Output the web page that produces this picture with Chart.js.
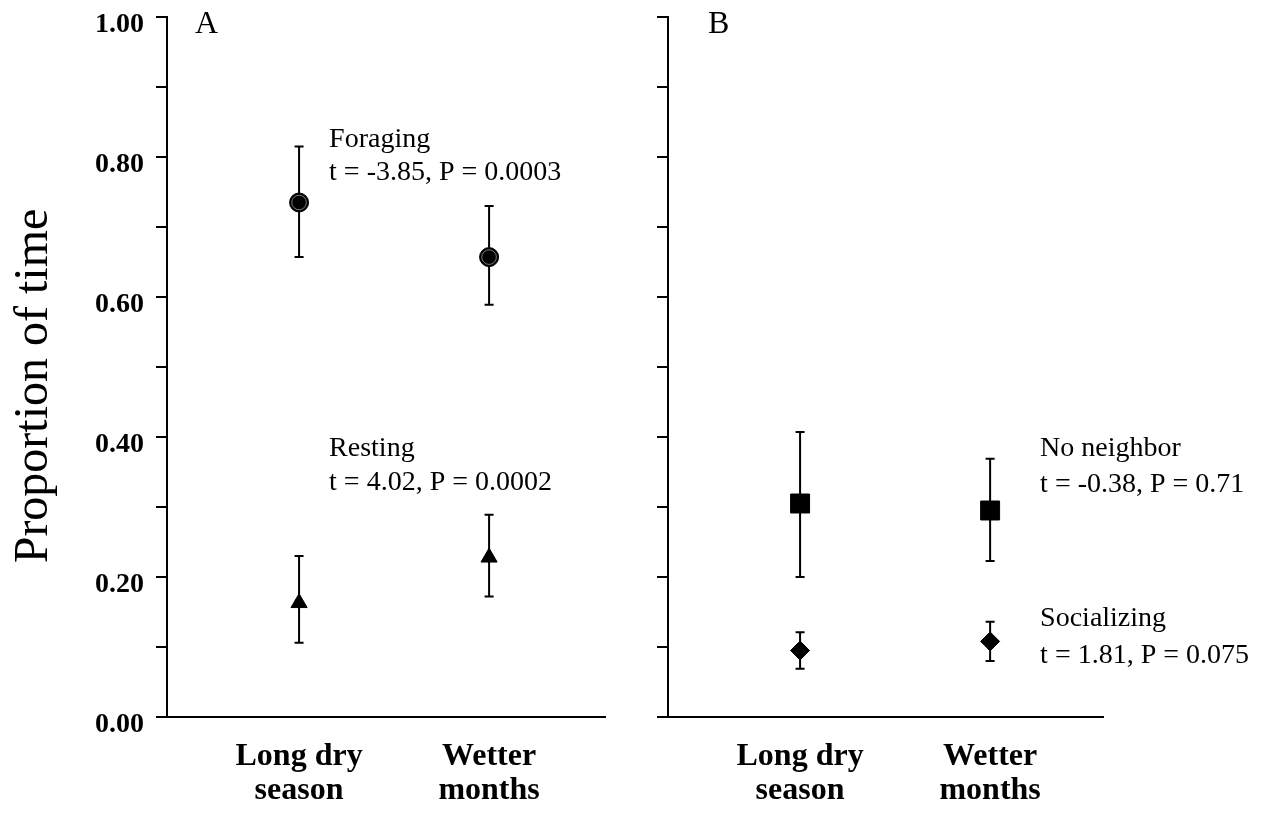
<!DOCTYPE html>
<html>
<head>
<meta charset="utf-8">
<script src="https://cdn.jsdelivr.net/npm/chart.js@4"></script>
<style>
  html, body { margin: 0; padding: 0; background: #fff; }
  #wrap { position: relative; width: 1270px; height: 815px; }
  canvas { position: absolute; top: 0; }
  #chartA { left: 0; }
  #chartB { left: 630px; }
</style>
</head>
<body>
<div id="wrap">
  <canvas id="chartA" width="630" height="815"></canvas>
  <canvas id="chartB" width="640" height="815"></canvas>
</div>
<script>
(function() {
  // ========== DATA ==========
  const categoryLabels = [["Long dry", "season"], ["Wetter", "months"]];
  const categoryX = [1, 2];
  const yTickLabels = ["0.00", "0.20", "0.40", "0.60", "0.80", "1.00"];

  // panel A
  const foraging = [0.735, 0.657];
  const foragingLow = [0.657, 0.589];
  const foragingHigh = [0.815, 0.730];
  const resting = [0.163, 0.228];
  const restingLow = [0.106, 0.172];
  const restingHigh = [0.230, 0.289];

  // panel B
  const noNeighbor = [0.305, 0.295];
  const noNeighborLow = [0.200, 0.223];
  const noNeighborHigh = [0.407, 0.369];
  const socializing = [0.095, 0.108];
  const socializingLow = [0.069, 0.080];
  const socializingHigh = [0.121, 0.136];

  const textForaging = ["Foraging", "t = -3.85, P = 0.0003"];
  const textResting = ["Resting", "t = 4.02, P = 0.0002"];
  const textNoNeighbor = ["No neighbor", "t = -0.38, P = 0.71"];
  const textSocializing = ["Socializing", "t = 1.81, P = 0.075"];

  // ========== HELPERS ==========
  const SERIF = "'Liberation Serif', 'Times New Roman', serif";
  Chart.defaults.font.family = SERIF;
  Chart.defaults.color = "#000";

  function points(values) {
    return categoryX.map((x, i) => ({ x: x, y: values[i] }));
  }

  // vertical error bars with caps, drawn under the markers
  const errorBars = {
    id: "errorBars",
    beforeDatasetsDraw(chart) {
      const ctx = chart.ctx;
      const xs = chart.scales.x, ys = chart.scales.y;
      ctx.save();
      ctx.strokeStyle = "#000";
      ctx.lineWidth = 2;
      chart.data.datasets.forEach(ds => {
        ds.data.forEach((pt, i) => {
          const px = xs.getPixelForValue(pt.x);
          const lo = ys.getPixelForValue(ds.errLow[i]);
          const hi = ys.getPixelForValue(ds.errHigh[i]);
          ctx.beginPath();
          ctx.moveTo(px, lo); ctx.lineTo(px, hi);
          ctx.moveTo(px - 4.5, lo); ctx.lineTo(px + 4.5, lo);
          ctx.moveTo(px - 4.5, hi); ctx.lineTo(px + 4.5, hi);
          ctx.stroke();
        });
      });
      ctx.restore();
    }
  };

  // thin light ring inside the round markers
  const markerRing = {
    id: "markerRing",
    afterDatasetsDraw(chart) {
      const ctx = chart.ctx;
      chart.data.datasets.forEach((ds, d) => {
        if (ds.pointStyle !== "circle") return;
        chart.getDatasetMeta(d).data.forEach(el => {
          ctx.save();
          ctx.strokeStyle = "#9a9a9a";
          ctx.lineWidth = 0.8;
          ctx.beginPath();
          ctx.arc(el.x, el.y, ds.pointRadius - 2.2, 0, Math.PI * 2);
          ctx.stroke();
          ctx.restore();
        });
      });
    }
  };

  // free text: pixel position (px/py) or value position (xv/yv)
  function textLayer(items) {
    return {
      id: "figureText",
      afterDraw(chart) {
        const ctx = chart.ctx;
        items.forEach(it => {
          const x = it.xv !== undefined ? chart.scales.x.getPixelForValue(it.xv) : it.px;
          const y = it.yv !== undefined ? chart.scales.y.getPixelForValue(it.yv) : it.py;
          ctx.save();
          ctx.font = it.font;
          ctx.fillStyle = "#000";
          ctx.textAlign = it.align || "left";
          ctx.textBaseline = it.baseline || "middle";
          ctx.translate(x, y);
          if (it.rotate) ctx.rotate(it.rotate);
          it.lines.forEach((ln, k) => ctx.fillText(ln, 0, k * (it.gap || 0)));
          ctx.restore();
        });
      }
    };
  }

  function makeOptions(cfg) {
    return {
      responsive: false,
      animation: false,
      devicePixelRatio: 1,
      layout: { padding: { top: 17, right: cfg.padRight, left: 0, bottom: 0 } },
      plugins: { legend: { display: false }, tooltip: { enabled: false } },
      scales: {
        x: {
          type: "linear",
          min: 0.305,
          max: cfg.xMax,
          afterBuildTicks(scale) { scale.ticks = categoryX.map(v => ({ value: v })); },
          afterFit(scale) { scale.height = 98; },
          ticks: {
            padding: 23,
            maxRotation: 0,
            autoSkip: false,
            font: { size: 32, weight: "bold", lineHeight: 1.06 },
            callback: v => categoryLabels[categoryX.indexOf(v)] || ""
          },
          grid: { display: false, drawTicks: false },
          border: { display: true, color: "#000", width: 2 }
        },
        y: {
          min: 0,
          max: 1,
          afterFit(scale) {
            scale.width = cfg.axisWidth;
            scale.paddingTop = 0;
            scale.paddingBottom = 0;
          },
          ticks: {
            stepSize: 0.1,
            padding: 12,
            labelOffset: 8,
            font: { size: 28, weight: "bold", lineHeight: 1 },
            callback: v => {
              const s = v.toFixed(2);
              return cfg.showLabels && yTickLabels.includes(s) ? s : "";
            }
          },
          grid: { display: true, drawOnChartArea: false, drawTicks: true, tickLength: 11, color: "#000", lineWidth: 2 },
          border: { display: true, color: "#000", width: 2 }
        }
      }
    };
  }

  function series(values, low, high, style, radius) {
    return {
      data: points(values),
      errLow: low,
      errHigh: high,
      pointStyle: style,
      pointRadius: radius,
      pointHoverRadius: radius,
      pointBackgroundColor: "#000",
      pointBorderColor: "#000",
      pointBorderWidth: 1,
      showLine: false
    };
  }

  // ========== PANEL A ==========
  new Chart(document.getElementById("chartA"), {
    type: "scatter",
    data: {
      datasets: [
        series(foraging, foragingLow, foragingHigh, "circle", 9.5),
        series(resting, restingLow, restingHigh, "triangle", 9.3)
      ]
    },
    options: makeOptions({ padRight: 25, xMax: 2.61, axisWidth: 167, showLabels: true }),
    plugins: [errorBars, markerRing, textLayer([
      { lines: ["A"], px: 195, py: 33, font: "32px " + SERIF, baseline: "alphabetic" },
      { lines: ["Proportion of time"], px: 47, py: 386, font: "48px " + SERIF, align: "center", baseline: "alphabetic", rotate: -Math.PI / 2 },
      { lines: textForaging, xv: 1.158, yv: 0.825, gap: 33, font: "28px " + SERIF },
      { lines: textResting, xv: 1.158, yv: 0.383, gap: 34, font: "28px " + SERIF }
    ])]
  });

  // ========== PANEL B ==========
  new Chart(document.getElementById("chartB"), {
    type: "scatter",
    data: {
      datasets: [
        series(noNeighbor, noNeighborLow, noNeighborHigh, "rect", 13.4),
        series(socializing, socializingLow, socializingHigh, "rectRot", 9.5)
      ]
    },
    options: makeOptions({ padRight: 167, xMax: 2.594, axisWidth: 38, showLabels: false }),
    plugins: [errorBars, textLayer([
      { lines: ["B"], px: 78, py: 33, font: "32px " + SERIF, baseline: "alphabetic" },
      { lines: textNoNeighbor, xv: 2.263, yv: 0.384, gap: 36, font: "28px " + SERIF },
      { lines: textSocializing, xv: 2.263, yv: 0.14, gap: 37, font: "28px " + SERIF }
    ])]
  });
})();
</script>
</body>
</html>
